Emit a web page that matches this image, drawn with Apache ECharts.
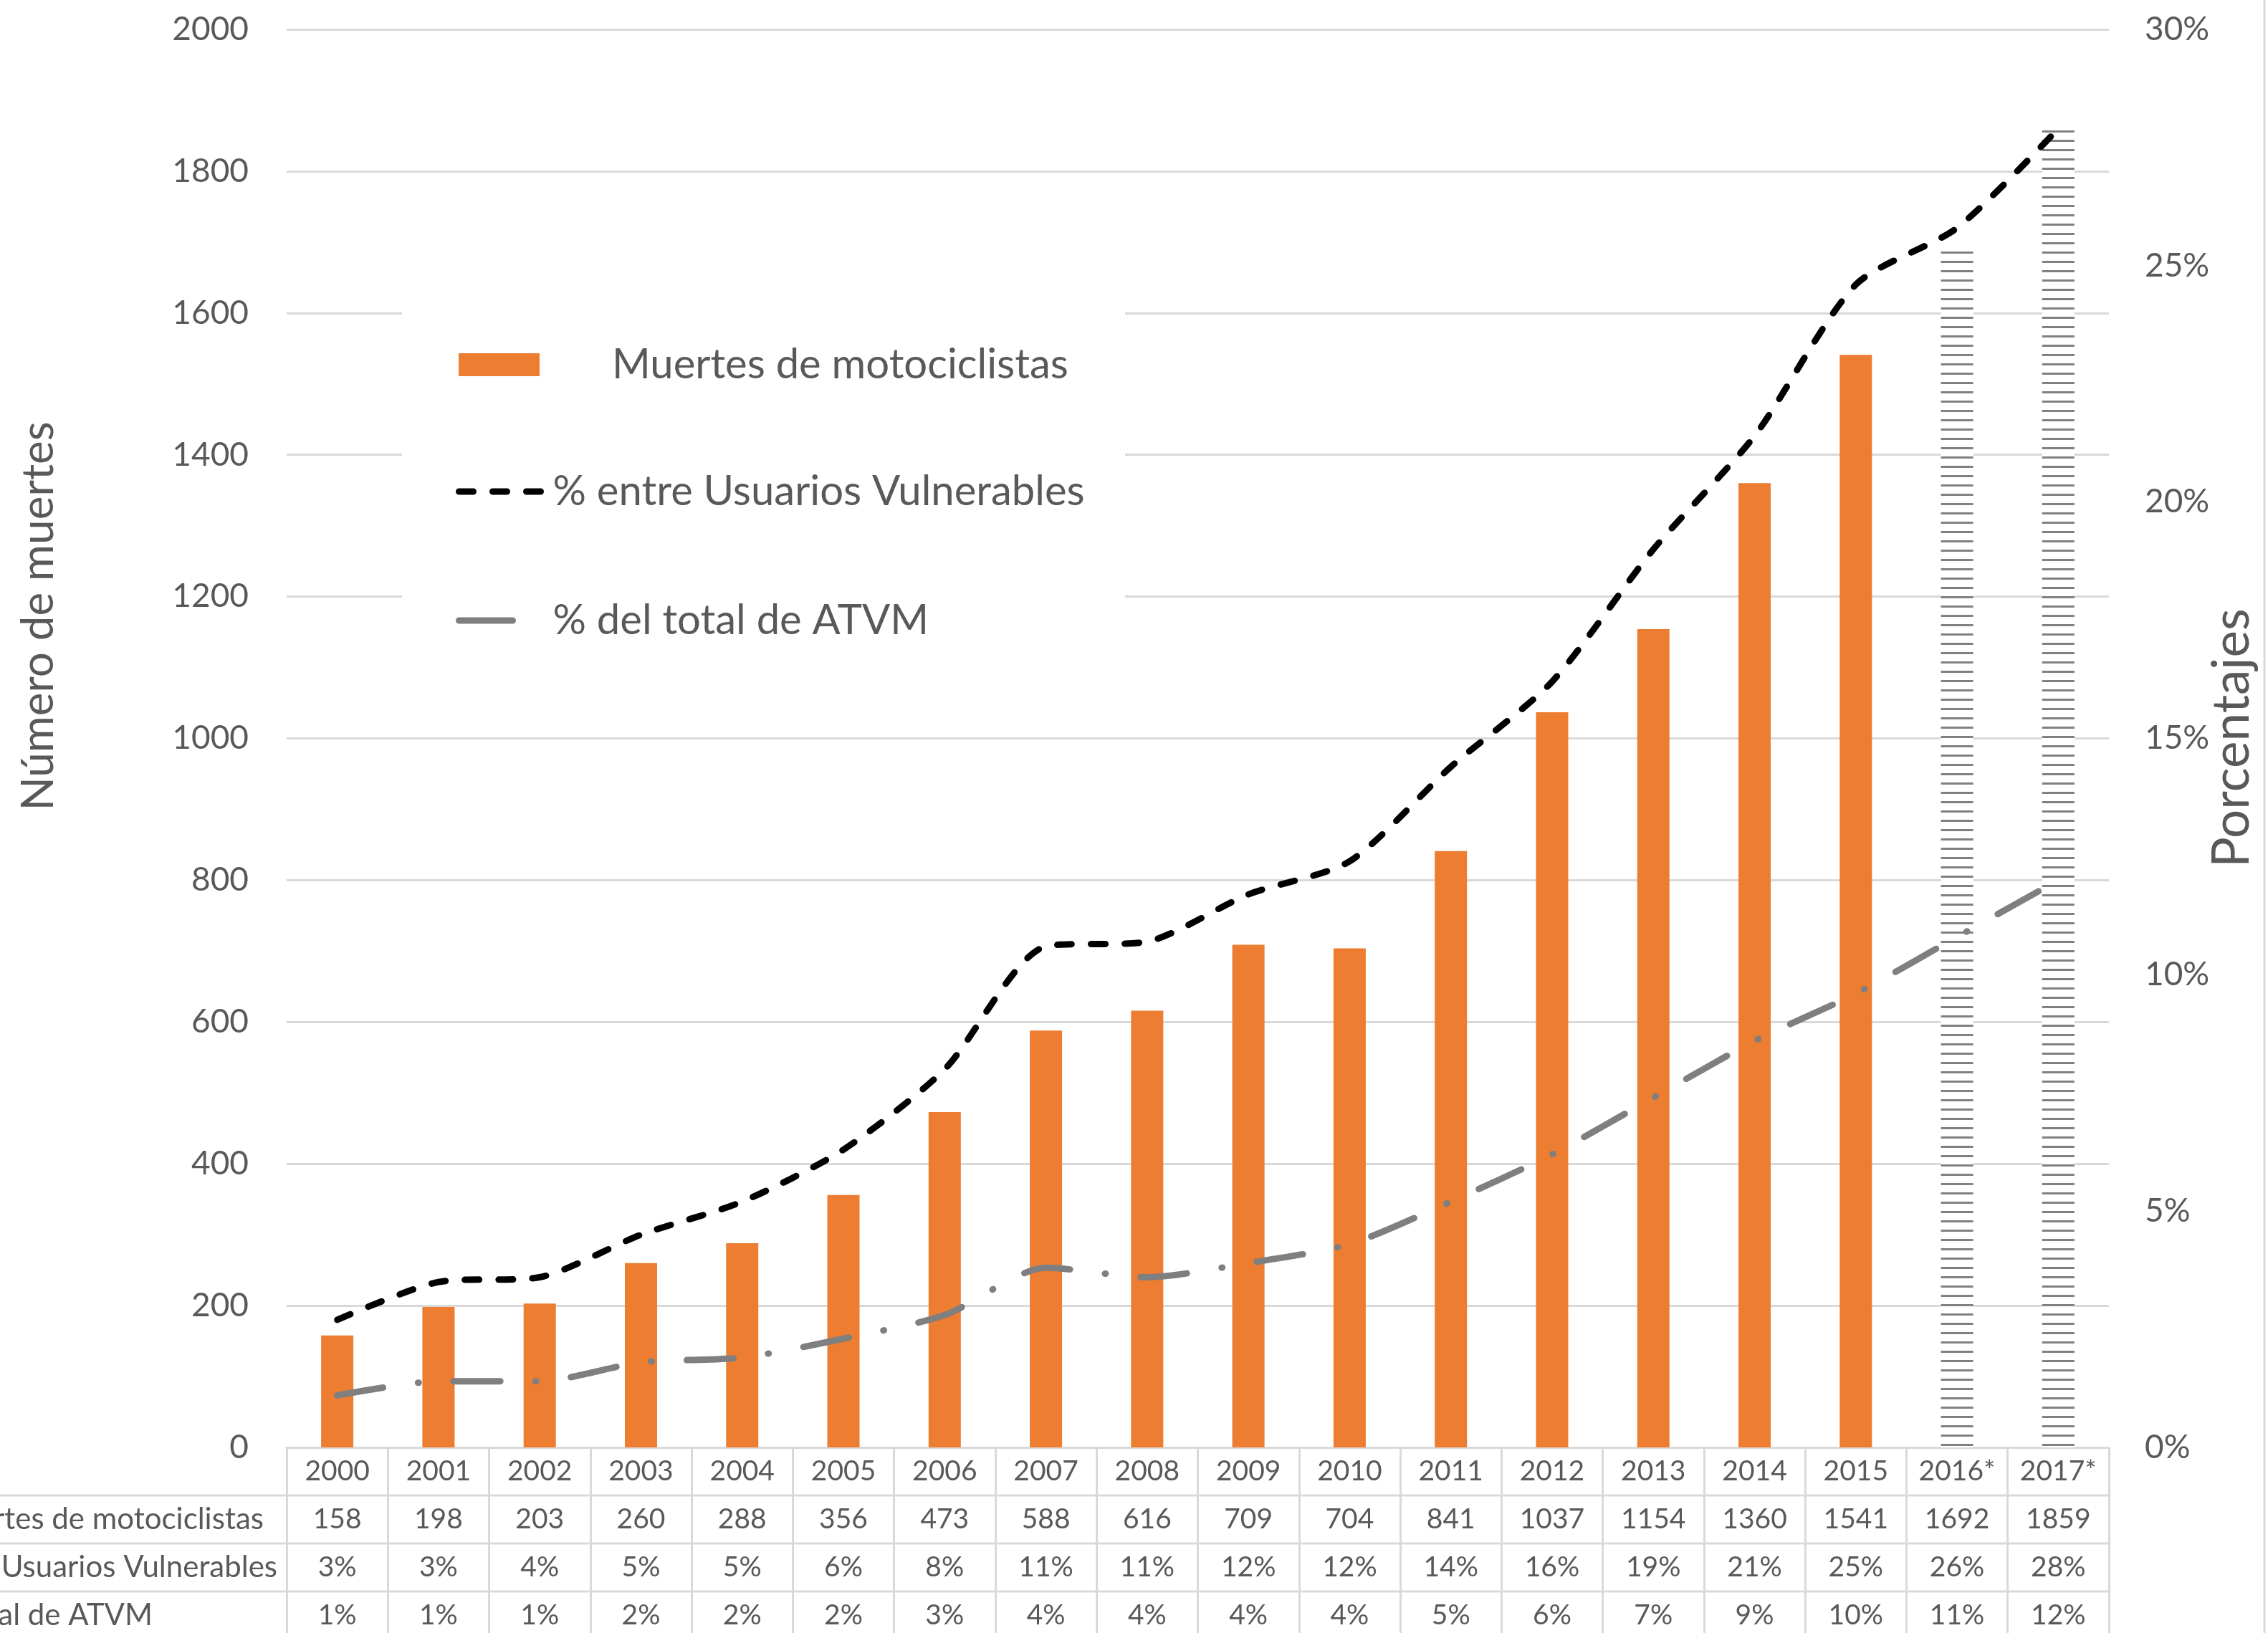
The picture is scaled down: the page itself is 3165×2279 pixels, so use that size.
<!DOCTYPE html>
<html>
<head>
<meta charset="utf-8">
<script src="https://cdn.jsdelivr.net/npm/echarts@6/dist/echarts.min.js"></script>
<style>
  html, body { margin: 0; padding: 0; background: #fff; }
  #chart { width: 3165px; height: 2279px; }
</style>
</head>
<body>
<div id="chart"></div>
<script>
// datos
const years = ['2000', '2001', '2002', '2003', '2004', '2005', '2006', '2007', '2008',
  '2009', '2010', '2011', '2012', '2013', '2014', '2015', '2016*', '2017*']
const deaths = [158, 198, 203, 260, 288, 356, 473, 588, 616, 709, 704, 841, 1037, 1154, 1360, 1541, 1692, 1859]
const pctVulnerables = [2.7, 3.5, 3.6, 4.5, 5.2, 6.3, 8.0, 10.6, 10.7, 11.7, 12.4, 14.4, 16.2, 19.0, 21.4, 24.6, 25.8, 27.9]
const pctAtvm = [1.1, 1.4, 1.4, 1.8, 1.9, 2.3, 2.8, 3.8, 3.6, 3.9, 4.3, 5.2, 6.2, 7.4, 8.6, 9.6, 10.8, 12.0]
// valores de la tabla
const tableVulnerables = [3, 3, 4, 5, 5, 6, 8, 11, 11, 12, 12, 14, 16, 19, 21, 25, 26, 28]
const tableAtvm = [1, 1, 1, 2, 2, 2, 3, 4, 4, 4, 4, 5, 6, 7, 9, 10, 11, 12]
const projected = ['2016*', '2017*']
const rowLabels = ['Muertes de motociclistas', '% entre Usuarios Vulnerables', '% del total de ATVM']
const leftAxis = { max: 2000, interval: 200 }
const rightAxis = { max: 30, interval: 5 }

const FONT = 'Lato'
const TEXT = '#595959'
const GRID = '#d9d9d9'

// trama rayada para los años estimados
const hatch = document.createElement('canvas')
hatch.width = 8
hatch.height = 13
const hctx = hatch.getContext('2d')
hctx.fillStyle = '#ffffff'
hctx.fillRect(0, 0, 8, 13)
hctx.fillStyle = '#808080'
hctx.fillRect(0, 0, 8, 3)

const gridBox = { left: 400, right: 222, top: 41, bottom: 259 }
const axisY = 2279 - gridBox.bottom
const rowH = 67
const tableRight = 3165 - gridBox.right
// donde termina cada etiqueta de fila (recortada a la izquierda)
const rowLabelEnd = [368, 387, 213]

const chart = echarts.init(document.getElementById('chart'))

const graphic = [
  { type: 'rect', z: 1, shape: { x: 561, y: 250, width: 1009, height: 740 }, style: { fill: '#fff' } },
  { type: 'line', shape: { x1: 3160, y1: 0, x2: 3160, y2: 2279 }, style: { stroke: GRID, lineWidth: 3 } },
  { type: 'text', x: 54, y: 860, rotation: Math.PI / 2,
    style: { text: 'Número de muertes', font: '62px ' + FONT, fill: TEXT, align: 'center', verticalAlign: 'middle' } },
  { type: 'text', x: 3115, y: 1030, rotation: Math.PI / 2,
    style: { text: 'Porcentajes', font: '71px ' + FONT, fill: TEXT, align: 'center', verticalAlign: 'middle' } }
]
for (let i = 1; i <= 3; i++) {
  graphic.push({ type: 'line', shape: { x1: 0, y1: axisY + rowH * i, x2: tableRight, y2: axisY + rowH * i },
    style: { stroke: GRID, lineWidth: 3 } })
  graphic.push({ type: 'text', x: rowLabelEnd[i - 1], y: axisY + rowH * i + rowH / 2,
    style: { text: rowLabels[i - 1], font: '42px ' + FONT, fill: TEXT, align: 'right', verticalAlign: 'middle' } })
}

const legendText = { fontFamily: FONT, fontSize: 58, color: TEXT, lineHeight: 60 }

const option = {
  animation: false,
  backgroundColor: '#fff',
  grid: gridBox,
  graphic: graphic,
  legend: [
    {
      data: [{ name: 'Muertes de motociclistas', icon: 'rect' }],
      left: 640, top: 479, padding: 0, itemWidth: 113, itemHeight: 32,
      textStyle: Object.assign({}, legendText, { padding: [0, 0, 0, 96] })
    },
    {
      data: ['% entre Usuarios Vulnerables'],
      left: 636, top: 656, padding: 0, itemWidth: 117, itemHeight: 2,
      itemStyle: { color: 'rgba(0,0,0,0)', borderWidth: 0 },
      lineStyle: { color: '#000', width: 9, type: [20, 27], cap: 'round' },
      textStyle: Object.assign({}, legendText, { padding: [0, 0, 0, 9] })
    },
    {
      data: ['% del total de ATVM'],
      left: 636, top: 836, padding: 0, itemWidth: 75, itemHeight: 2,
      itemStyle: { color: 'rgba(0,0,0,0)', borderWidth: 0 },
      lineStyle: { color: '#7f7f7f', width: 9, type: 'solid', cap: 'round' },
      textStyle: Object.assign({}, legendText, { padding: [0, 0, 0, 51] })
    }
  ],
  xAxis: {
    type: 'category',
    data: years,
    axisLine: { lineStyle: { color: GRID, width: 3 } },
    axisTick: { show: true, length: 275, lineStyle: { color: GRID, width: 3 } },
    axisLabel: {
      interval: 0,
      margin: 0,
      formatter: (value, idx) =>
        `{c|${value}}\n{c|${deaths[idx]}}\n{c|${tableVulnerables[idx]}%}\n{c|${tableAtvm[idx]}%}`,
      rich: {
        c: { fontFamily: FONT, fontSize: 39, lineHeight: rowH, color: TEXT, align: 'center' }
      }
    }
  },
  yAxis: [
    {
      type: 'value', min: 0, max: leftAxis.max, interval: leftAxis.interval,
      axisLine: { show: false }, axisTick: { show: false },
      splitLine: { lineStyle: { color: GRID, width: 3 } },
      axisLabel: { fontFamily: FONT, fontSize: 46, color: TEXT, margin: 53, formatter: v => String(v) }
    },
    {
      type: 'value', min: 0, max: rightAxis.max, interval: rightAxis.interval,
      axisLine: { show: false }, axisTick: { show: false }, splitLine: { show: false },
      axisLabel: { fontFamily: FONT, fontSize: 46, color: TEXT, margin: 50, formatter: '{value}%' }
    }
  ],
  series: [
    {
      name: 'Muertes de motociclistas',
      type: 'bar',
      barWidth: 45,
      itemStyle: { color: '#ED7D31' },
      data: deaths.map((v, i) => projected.includes(years[i])
        ? { value: v, itemStyle: { color: { image: hatch, repeat: 'repeat' } } }
        : v)
    },
    {
      name: '% entre Usuarios Vulnerables',
      type: 'line',
      yAxisIndex: 1,
      symbol: 'none',
      smooth: 0.25,
      itemStyle: { color: '#000' },
      lineStyle: { color: '#000', width: 9, type: [20, 27], cap: 'round' },
      data: pctVulnerables
    },
    {
      name: '% del total de ATVM',
      type: 'line',
      yAxisIndex: 1,
      symbol: 'none',
      smooth: 0.25,
      itemStyle: { color: '#7f7f7f' },
      lineStyle: { color: '#7f7f7f', width: 9, type: [65, 49, 1, 49], cap: 'round' },
      data: pctAtvm
    }
  ]
}

chart.setOption(option)
</script>
</body>
</html>
